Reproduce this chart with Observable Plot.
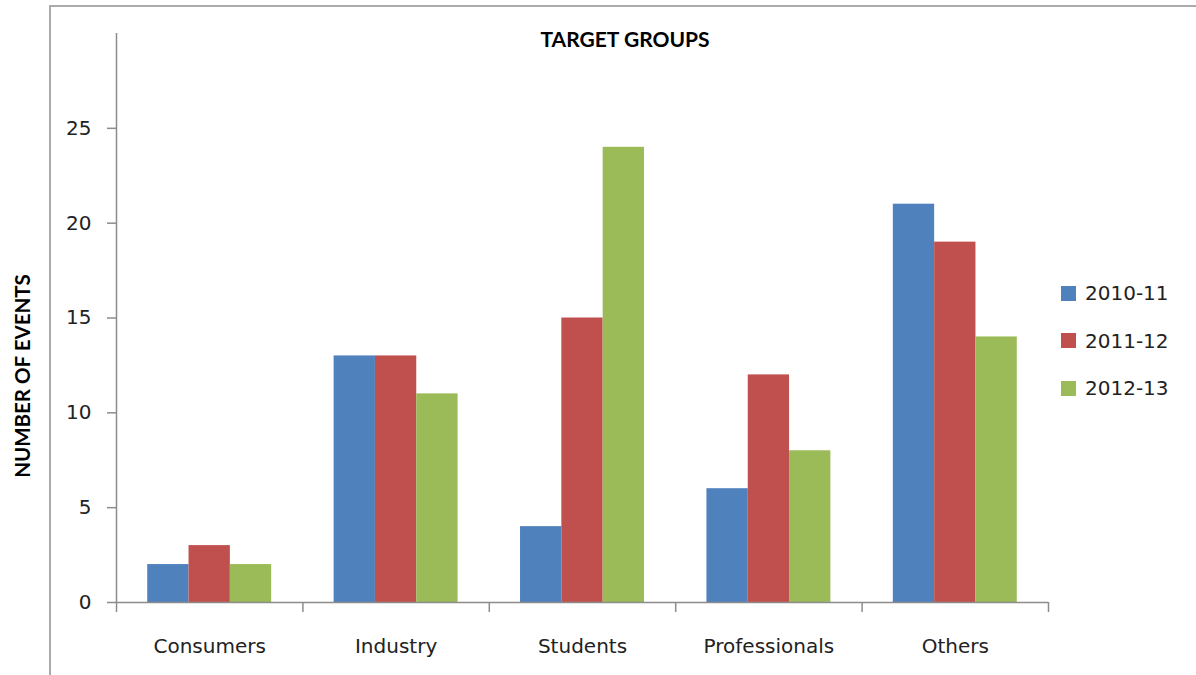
<!DOCTYPE html>
<html>
<head>
<meta charset="utf-8">
<script src="https://cdn.jsdelivr.net/npm/d3@7"></script>
<script src="https://cdn.jsdelivr.net/npm/@observablehq/plot@0.6"></script>
<style>
  html, body { margin: 0; padding: 0; background: #fff; overflow: hidden; }
  #wrap { position: relative; width: 1196px; height: 675px; overflow: hidden; }
  #border { position: absolute; left: 49px; top: 5px; width: 3000px; height: 3000px;
            border-left: 2px solid #ababab; border-top: 2px solid #ababab; }
  #title { position: absolute; left: 0; width: 1250px; top: 26px; text-align: center;
           font-family: Lato, "Open Sans", sans-serif; font-weight: 700; font-size: 21px; color: #000; }
  #ytitle { position: absolute; left: 22px; top: 376px; transform: translate(-50%, -50%) rotate(-90deg);
            white-space: nowrap; font-family: Lato, "Open Sans", sans-serif; font-weight: 700; font-size: 20.5px; color: #000; }
  #legend { position: absolute; left: 1061px; top: 280px; font-family: "DejaVu Sans", sans-serif; font-size: 20px; color: #222; }
  .item { display: flex; align-items: center; height: 26px; margin-bottom: 21.5px; }
  .sw { width: 15px; height: 15px; margin-right: 9px; }
  #chart { position: absolute; left: 0; top: 0; }
</style>
</head>
<body>
<div id="wrap">
  <div id="border"></div>
  <div id="chart"></div>
  <div id="title"></div>
  <div id="ytitle"></div>
  <div id="legend"></div>
</div>
<script>
const titleText = "TARGET GROUPS";
const yTitle = "NUMBER OF EVENTS";
const categories = ["Consumers", "Industry", "Students", "Professionals", "Others"];
const seriesNames = ["2010-11", "2011-12", "2012-13"];
const seriesColors = ["#4F81BD", "#C0504D", "#9BBB59"];
const values2010 = [2, 13, 4, 6, 21];
const values2011 = [3, 13, 15, 12, 19];
const values2012 = [2, 11, 24, 8, 14];
const yTicks = [0, 5, 10, 15, 20, 25];
const yMax = 30;

const seriesValues = [values2010, values2011, values2012];
const rows = [];
categories.forEach((c, i) => {
  seriesNames.forEach((s, j) => {
    rows.push({category: c, ci: i, series: s, si: j, value: seriesValues[j][i]});
  });
});

// group occupies this fraction of each category cell
const groupFrac = 0.665;
const pad = (1 - groupFrac) / 2;
const bw = groupFrac / seriesNames.length;

const boundaries = d3.range(categories.length + 1);
const centers = categories.map((c, i) => i + 0.5);

const plot = Plot.plot({
  width: 1196,
  height: 675,
  marginLeft: 116,
  marginRight: 148,
  marginTop: 33,
  marginBottom: 73,
  style: {fontFamily: "DejaVu Sans, sans-serif", fontSize: "20px", background: "transparent"},
  x: {type: "linear", domain: [0, categories.length], axis: null},
  y: {domain: [0, yMax], axis: null},
  color: {domain: seriesNames, range: seriesColors},
  marks: [
    Plot.rectY(rows, {
      x1: d => d.ci + pad + d.si * bw,
      x2: d => d.ci + pad + (d.si + 1) * bw,
      y1: 0,
      y2: "value",
      fill: "series"
    }),
    Plot.ruleY([0], {stroke: "#8c8c8c", strokeWidth: 1.5}),
    Plot.ruleX([0], {stroke: "#8c8c8c", strokeWidth: 1.5}),
    Plot.axisY({ticks: yTicks, tickSize: 9, tickPadding: 16, stroke: "#8c8c8c", strokeWidth: 1.5,
                fill: "#222", fontSize: 20, label: null, tickFormat: d3.format("d")}),
    Plot.axisX({ticks: boundaries, tickSize: 10, tickFormat: () => "", stroke: "#8c8c8c", strokeWidth: 1.5, label: null}),
    Plot.axisX({ticks: centers, tickSize: 0, tickPadding: 36, fill: "#222", fontSize: 20, label: null,
                tickFormat: (d) => categories[Math.floor(d)]})
  ]
});
document.getElementById("chart").appendChild(plot);

document.getElementById("title").textContent = titleText;
document.getElementById("ytitle").textContent = yTitle;
const legend = document.getElementById("legend");
seriesNames.forEach((s, j) => {
  const item = document.createElement("div");
  item.className = "item";
  const sw = document.createElement("div");
  sw.className = "sw";
  sw.style.background = seriesColors[j];
  const lab = document.createElement("span");
  lab.textContent = s;
  item.appendChild(sw);
  item.appendChild(lab);
  legend.appendChild(item);
});
</script>
</body>
</html>
